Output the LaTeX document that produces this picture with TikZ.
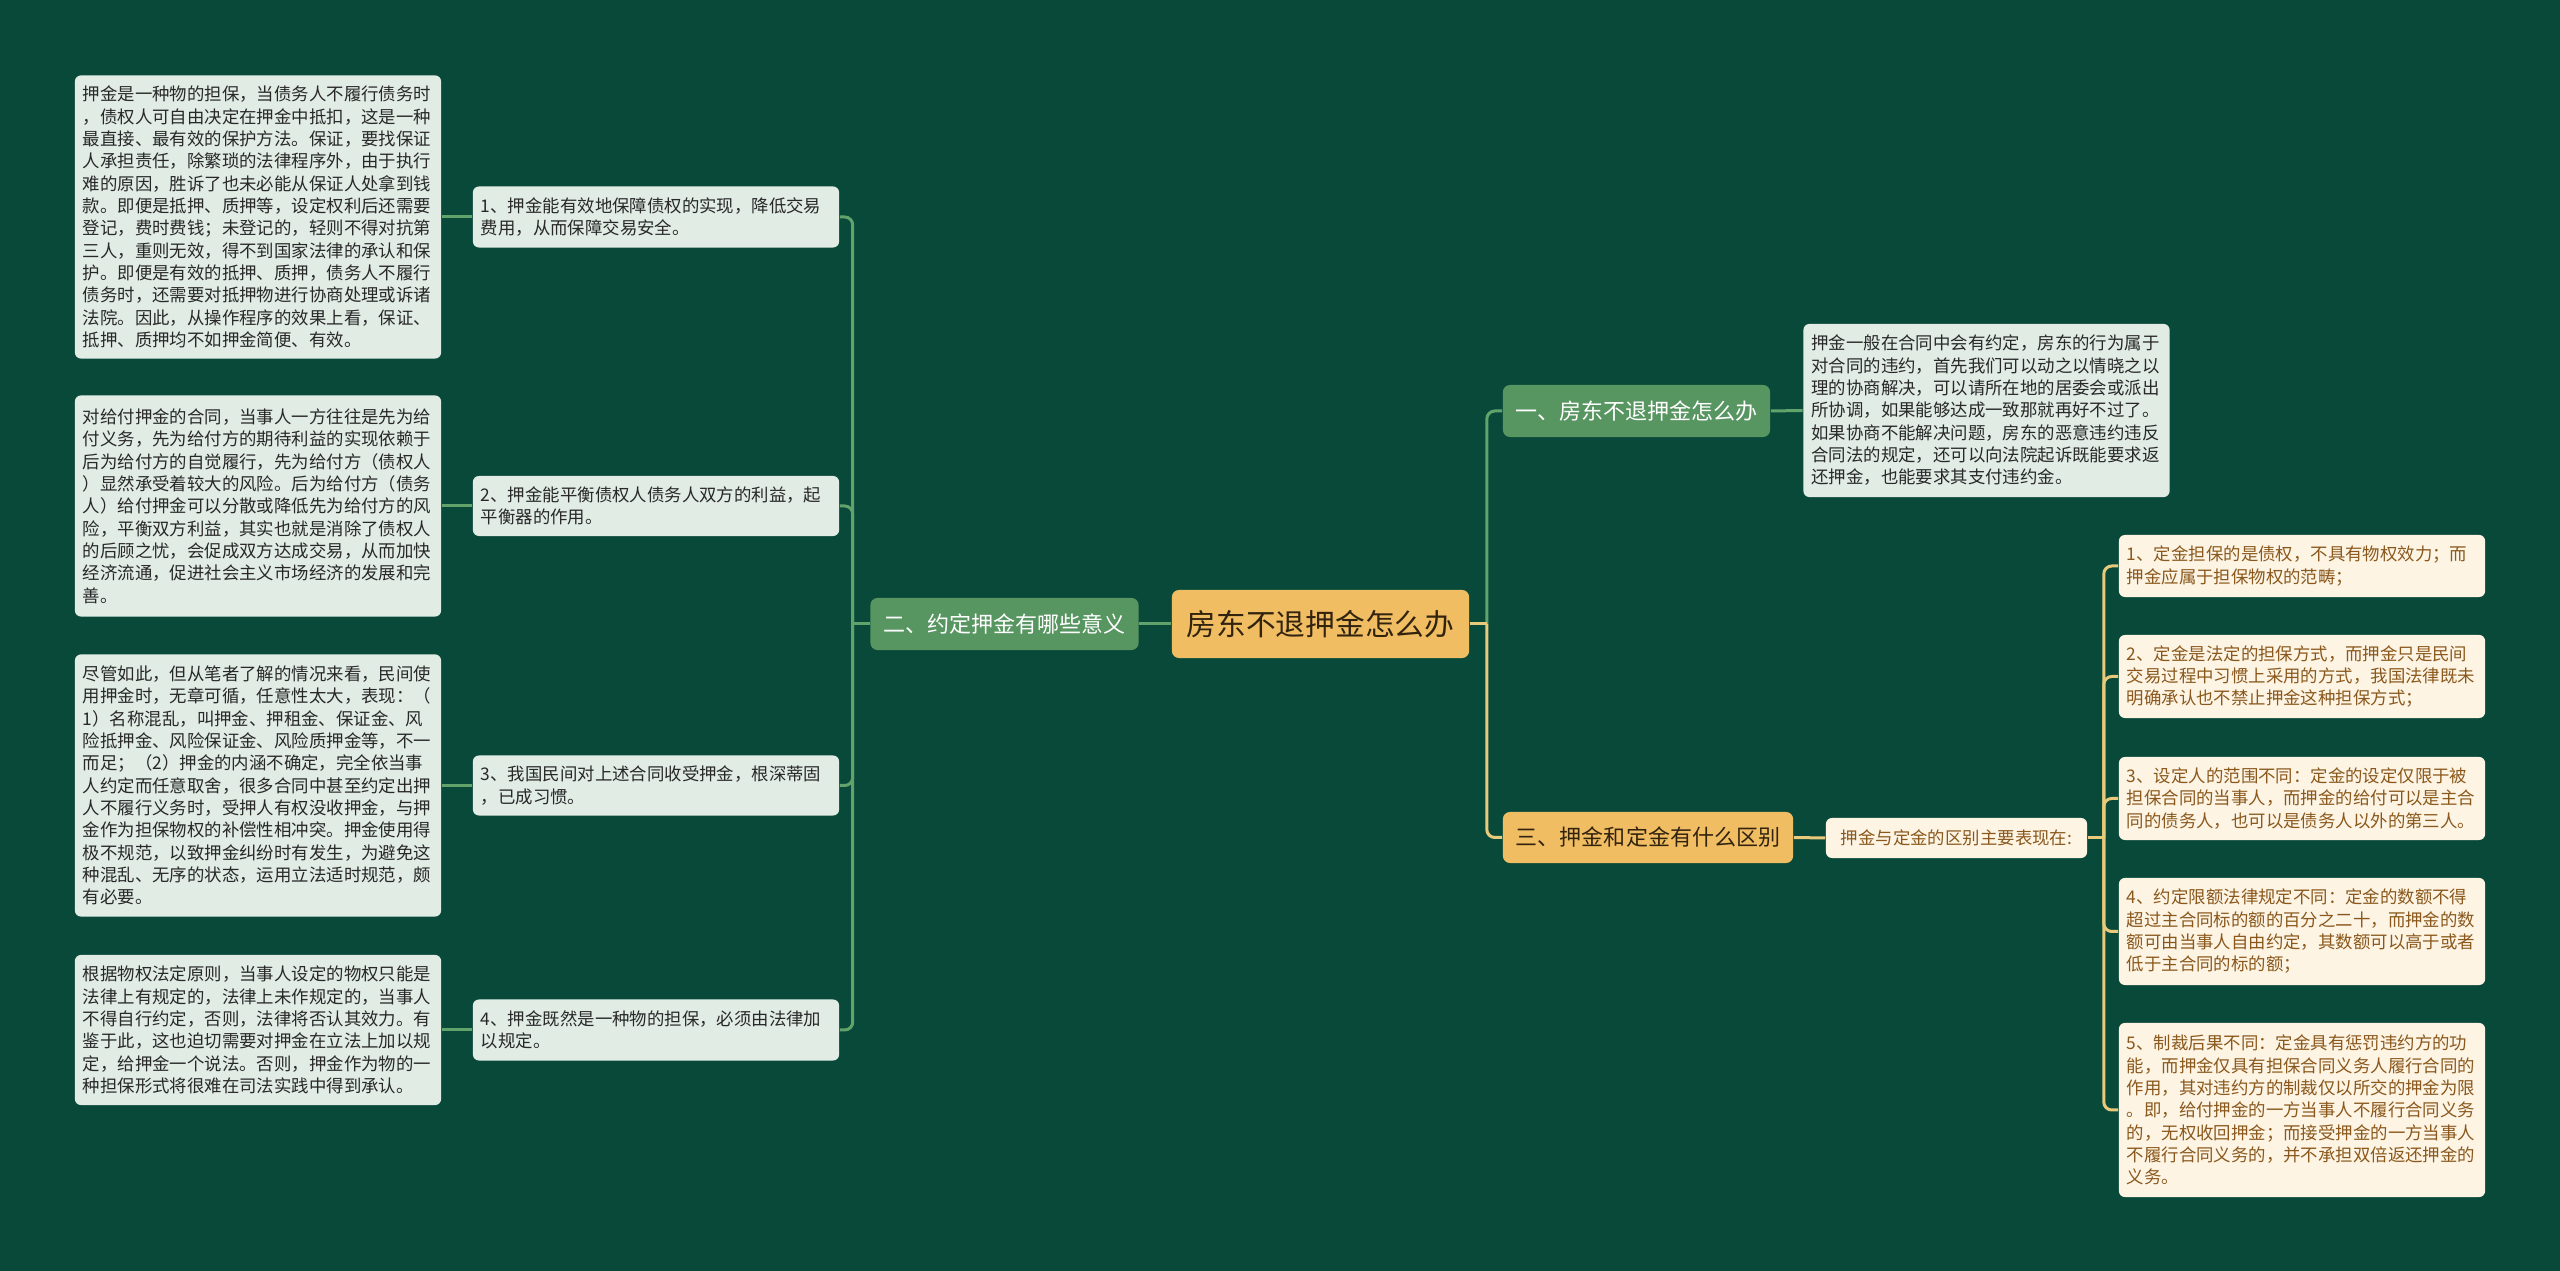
\documentclass[tikz,border=0pt]{standalone}
\usepackage{fontspec}
\setmainfont{Noto Sans CJK SC}
\usepackage{xcolor}
\definecolor{mapbg}{RGB}{9,73,58}
\definecolor{leafgrey}{RGB}{225,236,229}
\definecolor{branchgreen}{RGB}{87,149,97}
\definecolor{linegreen}{RGB}{98,163,108}
\definecolor{rootorange}{RGB}{240,189,99}
\definecolor{lineyellow}{RGB}{233,202,122}
\definecolor{leafcream}{RGB}{253,244,228}
\definecolor{creamtext}{RGB}{138,88,28}
\definecolor{darktext}{RGB}{40,40,40}
\definecolor{rootfont}{RGB}{50,35,15}

\begin{document}
\begin{tikzpicture}[x=0.01cm, y=-0.01cm,
    root/.style={rounded corners=0.07cm, fill=rootorange, text=rootfont, inner sep=0pt,
        minimum width=2.97cm, minimum height=0.68cm, font=\fontsize{8.45pt}{10pt}\selectfont},
    gbranch/.style={rounded corners=0.07cm, fill=branchgreen, text=white, inner sep=0pt,
        minimum height=0.52cm, font=\fontsize{6.26pt}{7.5pt}\selectfont},
    obranch/.style={gbranch, fill=rootorange, text=rootfont},
    gleaf/.style={rounded corners=0.06cm, fill=leafgrey, text=darktext, text width=3.5cm,
        inner xsep=0.08cm, inner ysep=0pt, align=left, font=\fontsize{4.95pt}{6.35pt}\selectfont},
    cleaf/.style={gleaf, fill=leafcream, text=creamtext},
    glink/.style={draw=linegreen, line width=0.03cm, rounded corners=0.08cm},
    ylink/.style={glink, draw=lineyellow}
]
    \fill[mapbg] (0,0) rectangle (2560,1271);

    \node[root] (root) at (1320.5,624) {房东不退押金怎么办};
    \node[gbranch, minimum width=2.68cm] (b2) at (1004.5,624) {二、约定押金有哪些意义};
    \node[gbranch, minimum width=2.67cm] (b1) at (1636.5,411) {一、房东不退押金怎么办};
    \node[obranch, minimum width=2.90cm, minimum height=0.51cm] (b3) at (1648,837.5) {三、押金和定金有什么区别};

    % left side
    \node[gleaf, minimum height=0.61cm] (m1) at (656,217) {1、押金能有效地保障债权的实现，降低交易\\费用，从而保障交易安全。};
    \node[gleaf, minimum height=0.60cm] (m2) at (656,506) {2、押金能平衡债权人债务人双方的利益，起\\平衡器的作用。};
    \node[gleaf, minimum height=0.60cm] (m3) at (656,785.5) {3、我国民间对上述合同收受押金，根深蒂固\\，已成习惯。};
    \node[gleaf, minimum height=0.61cm] (m4) at (656,1030) {4、押金既然是一种物的担保，必须由法律加\\以规定。};

    \node[gleaf, minimum height=2.83cm] (l1) at (258,217) {押金是一种物的担保，当债务人不履行债务时\\，债权人可自由决定在押金中抵扣，这是一种\\最直接、最有效的保护方法。保证，要找保证\\人承担责任，除繁琐的法律程序外，由于执行\\难的原因，胜诉了也未必能从保证人处拿到钱\\款。即便是抵押、质押等，设定权利后还需要\\登记，费时费钱；未登记的，轻则不得对抗第\\三人，重则无效，得不到国家法律的承认和保\\护。即便是有效的抵押、质押，债务人不履行\\债务时，还需要对抵押物进行协商处理或诉诸\\法院。因此，从操作程序的效果上看，保证、\\抵押、质押均不如押金简便、有效。};
    \node[gleaf, minimum height=2.21cm] (l2) at (258,506) {对给付押金的合同，当事人一方往往是先为给\\付义务，先为给付方的期待利益的实现依赖于\\后为给付方的自觉履行，先为给付方（债权人\\）显然承受着较大的风险。后为给付方（债务\\人）给付押金可以分散或降低先为给付方的风\\险，平衡双方利益，其实也就是消除了债权人\\的后顾之忧，会促成双方达成交易，从而加快\\经济流通，促进社会主义市场经济的发展和完\\善。};
    \node[gleaf, minimum height=2.62cm] (l3) at (258,785.5) {尽管如此，但从笔者了解的情况来看，民间使\\用押金时，无章可循，任意性太大，表现：（\\1）名称混乱，叫押金、押租金、保证金、风\\险抵押金、风险保证金、风险质押金等，不一\\而足；（2）押金的内涵不确定，完全依当事\\人约定而任意取舍，很多合同中甚至约定出押\\人不履行义务时，受押人有权没收押金，与押\\金作为担保物权的补偿性相冲突。押金使用得\\极不规范，以致押金纠纷时有发生，为避免这\\种混乱、无序的状态，运用立法适时规范，颇\\有必要。};
    \node[gleaf, minimum height=1.50cm] (l4) at (258,1030) {根据物权法定原则，当事人设定的物权只能是\\法律上有规定的，法律上未作规定的，当事人\\不得自行约定，否则，法律将否认其效力。有\\鉴于此，这也迫切需要对押金在立法上加以规\\定，给押金一个说法。否则，押金作为物的一\\种担保形式将很难在司法实践中得到承认。};

    % right side
    \node[gleaf, minimum height=1.73cm] (r1) at (1986.5,410.5) {押金一般在合同中会有约定，房东的行为属于\\对合同的违约，首先我们可以动之以情晓之以\\理的协商解决，可以请所在地的居委会或派出\\所协调，如果能够达成一致那就再好不过了。\\如果协商不能解决问题，房东的恶意违约违反\\合同法的规定，还可以向法院起诉既能要求返\\还押金，也能要求其支付违约金。};
    \node[cleaf, text width=, align=center, inner xsep=0pt, minimum width=2.61cm, minimum height=0.40cm] (d0) at (1956.5,838) {押金与定金的区别主要表现在:};

    \node[cleaf, minimum height=0.62cm] (s1) at (2302,566) {1、定金担保的是债权，不具有物权效力；而\\押金应属于担保物权的范畴；};
    \node[cleaf, minimum height=0.83cm] (s2) at (2302,676.5) {2、定金是法定的担保方式，而押金只是民间\\交易过程中习惯上采用的方式，我国法律既未\\明确承认也不禁止押金这种担保方式；};
    \node[cleaf, minimum height=0.83cm] (s3) at (2302,798.5) {3、设定人的范围不同：定金的设定仅限于被\\担保合同的当事人，而押金的给付可以是主合\\同的债务人，也可以是债务人以外的第三人。};
    \node[cleaf, minimum height=1.07cm] (s4) at (2302,931.5) {4、约定限额法律规定不同：定金的数额不得\\超过主合同标的额的百分之二十，而押金的数\\额可由当事人自由约定，其数额可以高于或者\\低于主合同的标的额；};
    \node[cleaf, minimum height=1.74cm] (s5) at (2302,1110) {5、制裁后果不同：定金具有惩罚违约方的功\\能，而押金仅具有担保合同义务人履行合同的\\作用，其对违约方的制裁仅以所交的押金为限\\。即，给付押金的一方当事人不履行合同义务\\的，无权收回押金；而接受押金的一方当事人\\不履行合同义务的，并不承担双倍返还押金的\\义务。};

    % links
    \draw[glink] (root.west) -- (b2.east);
    \draw[glink] (b2.west) -- ++(-17,0);
    \foreach \m in {m1,m2,m3,m4}
        \draw[glink] (b2.west) ++(-17,0) |- (\m.east);
    \foreach \i in {1,2,3,4}
        \draw[glink] (l\i.east) -- (m\i.west);

    \draw[glink] (root.east) ++(17,0) |- (b1.west);
    \draw[ylink] (root.east) ++(17,0) |- (b3.west);
    \draw[ylink] (root.east) -- ++(17,0);
    \draw[glink] (b1.east) -- (r1.west);
    \draw[ylink] (b3.east) -- (d0.west);
    \draw[ylink] (d0.east) -- ++(16,0);
    \foreach \s in {s1,s2,s3,s4,s5}
        \draw[ylink] (d0.east) ++(16,0) |- (\s.west);
\end{tikzpicture}
\end{document}
